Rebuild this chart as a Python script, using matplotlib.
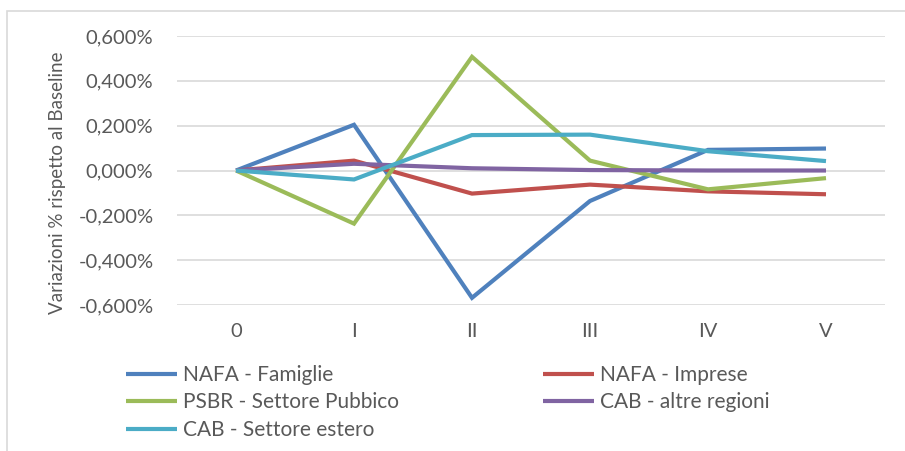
import matplotlib
matplotlib.use("Agg")
import matplotlib.pyplot as plt
from matplotlib.patches import Rectangle
from matplotlib.ticker import FuncFormatter

# data (values in %)
periods = ["0", "I", "II", "III", "IV", "V"]
famiglie = [0.0, 0.204, -0.568, -0.136, 0.092, 0.098]
imprese = [0.0, 0.044, -0.103, -0.063, -0.093, -0.106]
psbr = [0.0, -0.237, 0.507, 0.044, -0.084, -0.034]
altre_regioni = [0.0, 0.030, 0.010, 0.002, 0.0, 0.0]
settore_estero = [0.0, -0.040, 0.158, 0.160, 0.086, 0.042]

labels = ["NAFA - Famiglie", "NAFA - Imprese", "PSBR - Settore Pubbico",
          "CAB - altre regioni", "CAB - Settore estero"]
colors = ["#4F81BD", "#C0504D", "#9BBB59", "#8064A2", "#4BACC6"]
yticks = [-0.6, -0.4, -0.2, 0.0, 0.2, 0.4, 0.6]

plt.rcParams['font.family'] = ['Lato', 'DejaVu Sans']
text_col = "#595959"

W, H = 905, 451
fig = plt.figure(figsize=(W / 100, H / 100), dpi=100)

# outer chart border
fig.add_artist(Rectangle((7 / W, -0.1), 1.2, 1 - 11 / H + 0.1, transform=fig.transFigure,
                         fill=False, edgecolor="#d9d9d9", linewidth=1.2))

ax = fig.add_axes([177 / W, 1 - 305 / H, (885 - 177) / W, (305 - 36) / H])

series = [famiglie, imprese, psbr, altre_regioni, settore_estero]
x = list(range(len(periods)))
lines = []
for vals, lab, col in zip(series, labels, colors):
    ln, = ax.plot(x, vals, color=col, lw=3, label=lab, solid_capstyle="butt",
                  solid_joinstyle="miter")
    lines.append(ln)

ax.set_xlim(-0.5, len(periods) - 0.5)
ax.set_ylim(-0.6, 0.6)
ax.set_yticks(yticks)
ax.yaxis.set_major_formatter(FuncFormatter(lambda v, p: f"{v:.3f}%".replace(".", ",").replace("-0,000", "0,000")))
ax.set_xticks(x)
ax.set_xticklabels(periods)
ax.grid(axis="y", color="#d9d9d9", lw=1.2)
ax.set_axisbelow(True)
for s in ax.spines.values():
    s.set_visible(False)
ax.tick_params(axis="both", length=0, labelsize=14.5, colors=text_col)
ax.tick_params(axis="y", pad=17)
ax.tick_params(axis="x", pad=13)

fig.text(57 / W, 1 - 183 / H, "Variazioni % rispetto al Baseline", rotation=90,
         ha="center", va="center", fontsize=13.5, color=text_col)

# legend in two columns placed by hand
leg_kw = dict(frameon=False, fontsize=15, handlelength=2.45, handletextpad=0.3,
              labelspacing=0.36, borderpad=0, borderaxespad=0, loc="upper left",
              bbox_transform=fig.transFigure, labelcolor=text_col)
leg1 = fig.legend([lines[0], lines[2], lines[4]], [labels[0], labels[2], labels[4]],
                  bbox_to_anchor=(126 / W, 1 - 365 / H), **leg_kw)
leg2 = fig.legend([lines[1], lines[3]], [labels[1], labels[3]],
                  bbox_to_anchor=(543 / W, 1 - 365 / H), **leg_kw)

fig.savefig("out.png", dpi=100)
